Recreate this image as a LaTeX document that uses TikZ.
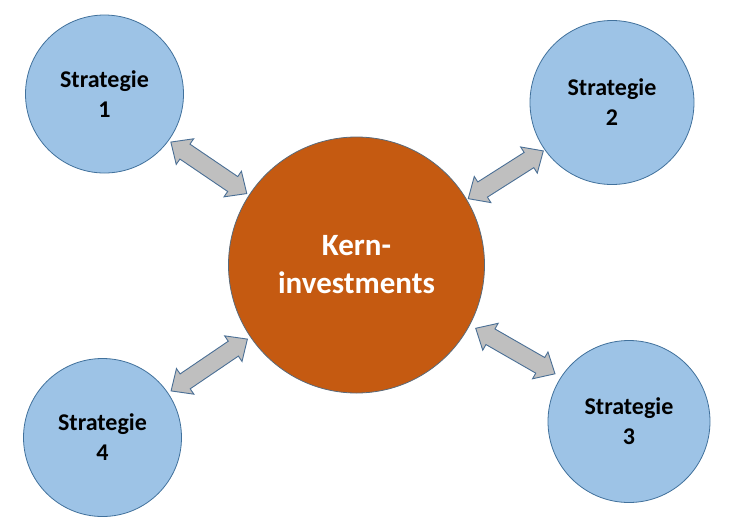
\documentclass[tikz,border=0pt]{standalone}
\usepackage{fontspec}
\setmainfont{Carlito}
\usetikzlibrary{calc}
\definecolor{bluefill}{HTML}{9DC3E6}
\definecolor{blueline}{HTML}{41719C}
\definecolor{kernfill}{HTML}{C55A11}
\definecolor{kernline}{HTML}{5A6A7A}
\definecolor{arrowfill}{HTML}{BFBFBF}
\definecolor{arrowline}{HTML}{4A6F95}
\tikzset{
  strat/.style={circle, draw=blueline, fill=bluefill, line width=0.8pt,
    inner sep=0pt, align=center, text=black,
    font=\fontsize{24}{30}\selectfont\bfseries},
  kern/.style={circle, draw=kernline, fill=kernfill, line width=0.8pt,
    inner sep=0pt, align=center, text=white,
    font=\fontsize{31}{38}\selectfont\bfseries},
  arrowgap/.store in=\agap, arrowgap=2.5,
  arrowshift/.store in=\ashift, arrowshift=0,
  headlen/.store in=\ahl, headlen=17,
  headhalf/.store in=\ahh, headhalf=15.5,
  shafthalf/.store in=\ash, shafthalf=9,
  dblarrow/.style={draw=arrowline, fill=arrowfill, line width=0.9pt, line join=miter,
    to path={
      let \p1=(\tikztostart.center), \p2=(\tikztotarget.center),
          \p3=(\tikztostart.east), \p4=(\tikztotarget.east),
          \n1={atan2(\y2-\y1,\x2-\x1)},
          \n2={veclen(\x2-\x1,\y2-\y1)},
          \n3={veclen(\x3-\x1,\y3-\y1)},
          \n4={veclen(\x4-\x2,\y4-\y2)},
          \n5={\n3+\agap},
          \n6={\n2-\n4-\agap},
          \n7={\n5+\ahl},
          \n8={\n6-\ahl}
      in
      ($(\p1)+({\n1}:{\n5*1pt})+({\n1+90}:{\ashift*1pt})$)
      -- ($(\p1)+({\n1}:{\n7*1pt})+({\n1+90}:{(\ashift+\ahh)*1pt})$)
      -- ($(\p1)+({\n1}:{\n7*1pt})+({\n1+90}:{(\ashift+\ash)*1pt})$)
      -- ($(\p1)+({\n1}:{\n8*1pt})+({\n1+90}:{(\ashift+\ash)*1pt})$)
      -- ($(\p1)+({\n1}:{\n8*1pt})+({\n1+90}:{(\ashift+\ahh)*1pt})$)
      -- ($(\p1)+({\n1}:{\n6*1pt})+({\n1+90}:{\ashift*1pt})$)
      -- ($(\p1)+({\n1}:{\n8*1pt})+({\n1+90}:{(\ashift-\ahh)*1pt})$)
      -- ($(\p1)+({\n1}:{\n8*1pt})+({\n1+90}:{(\ashift-\ash)*1pt})$)
      -- ($(\p1)+({\n1}:{\n7*1pt})+({\n1+90}:{(\ashift-\ash)*1pt})$)
      -- ($(\p1)+({\n1}:{\n7*1pt})+({\n1+90}:{(\ashift-\ahh)*1pt})$)
      -- cycle
    }}
}
\begin{document}
\begin{tikzpicture}[x=1pt, y=-1pt]
  \useasboundingbox (0,0) rectangle (740,531);
  \node[kern, minimum size=256pt] (k) at (356.5,265) {Kern-\\investments};
  \node[strat, minimum size=158pt] (s1) at (104.5,94) {Strategie\\1};
  \node[strat, minimum size=164pt] (s2) at (612,102.5) {Strategie\\2};
  \node[strat, minimum size=162pt] (s3) at (629,421.5) {Strategie\\3};
  \node[strat, minimum size=158pt] (s4) at (102.5,437.5) {Strategie\\4};
  \draw[dblarrow, arrowgap=2.5, arrowshift=-2.5] (s1) to (k);
  \draw[dblarrow, arrowgap=1.5, arrowshift=-4] (k) to (s2);
  \draw[dblarrow, arrowgap=6.5, arrowshift=4.5] (k) to (s3);
  \draw[dblarrow, arrowgap=3.5, arrowshift=0] (k) to (s4);
\end{tikzpicture}
\end{document}
